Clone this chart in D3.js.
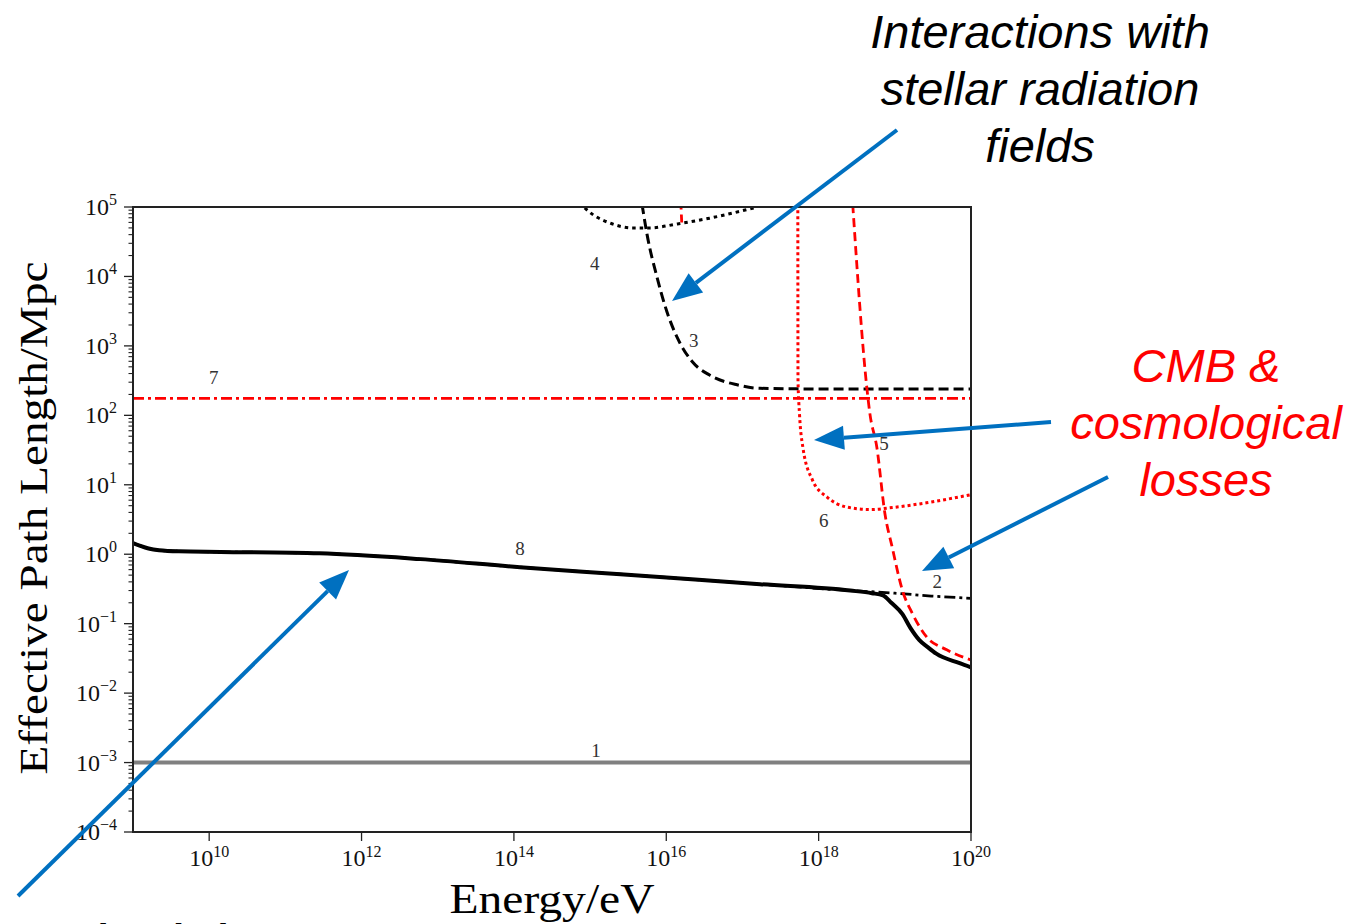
<!DOCTYPE html>
<html>
<head>
<meta charset="utf-8">
<script src="https://cdn.jsdelivr.net/npm/d3@7"></script>
<style>
  html, body { margin: 0; padding: 0; background: #fff; }
  svg { display: block; }
</style>
</head>
<body>
<svg id="chart" width="1349" height="924"></svg>
<script>
// energies in eV, path lengths in Mpc
const totalE = [1e9, 1.25e9, 1.6e9, 2.2e9, 4e9, 1.4e10, 2.8e11, 5.9e12, 1.2e14, 2.5e15, 1.7e17, 2.6e18, 5e18, 7e18, 9e18, 1.26e19, 1.6e19, 2.1e19, 2.7e19, 3.5e19, 7.1e19, 1e20];
const totalL = [1.45, 1.32, 1.21, 1.14, 1.1, 1.08, 1.03, 0.85, 0.65, 0.515, 0.37, 0.30, 0.275, 0.255, 0.2, 0.137, 0.087, 0.058, 0.046, 0.037, 0.027, 0.0235];

const hadronE = [1e9, 1.25e9, 1.6e9, 2.2e9, 4e9, 1.4e10, 2.8e11, 5.9e12, 1.2e14, 2.5e15, 1.7e17, 2.6e18, 1e19, 3e19, 1e20];
const hadronL = [1.45, 1.32, 1.21, 1.14, 1.1, 1.08, 1.03, 0.85, 0.65, 0.515, 0.37, 0.30, 0.275, 0.25, 0.232];

const stellarPionE = [4.8e15, 5.6e15, 7.6e15, 1.02e16, 1.4e16, 2.2e16, 3.7e16, 8.5e16, 1.7e17, 1e18, 1e20];
const stellarPionL = [1.1e5, 4e4, 9.5e3, 3.1e3, 1.3e3, 590, 380, 275, 245, 240, 240];

const stellarPairE = [7.2e14, 1.1e15, 1.8e15, 3.6e15, 6e15, 1.4e16, 3.7e16, 1.4e17];
const stellarPairL = [1.15e5, 7.7e4, 5.9e4, 5.0e4, 5.0e4, 5.7e4, 6.9e4, 9.7e4];

const cmbPionE = [2.8e18, 4.3e18, 4.7e18, 5.8e18, 7.4e18, 9.3e18, 1.26e19, 1.7e19, 2.6e19, 4.8e19, 1e20];
const cmbPionL = [1.1e5, 245, 107, 35, 3.9, 1.22, 0.30, 0.14, 0.065, 0.042, 0.030];

const cmbStubE = [1.55e16, 1.6e16];
const cmbStubL = [1.2e5, 5.6e4];

const cmbPairE = [5.33e17, 5.36e17, 5.6e17, 6.2e17, 8.3e17, 1.3e18, 2.3e18, 4.7e18, 9.3e18, 2.6e19, 1e20];
const cmbPairL = [1.1e5, 320, 107, 35, 11.7, 6.6, 4.8, 4.4, 4.7, 5.5, 7.2];

const diffusionE = [1e9, 1e20];
const diffusionL = [1e-3, 1e-3];

const cosmoE = [1e9, 1e20];
const cosmoL = [175, 175];

const curveLabels = ["1", "2", "3", "4", "5", "6", "7", "8"];
const labelE = [1.2e15, 3.6e19, 2.3e16, 1.15e15, 7.2e18, 1.17e18, 1.15e10, 1.2e14];
const labelL = [1.2e-3, 0.33, 950, 1.24e4, 31.6, 2.47, 280, 0.97];

const xTickExp = [10, 12, 14, 16, 18, 20];
const yTickExp = [-4, -3, -2, -1, 0, 1, 2, 3, 4, 5];

const svg = d3.select("#chart");
const pLeft = 133, pRight = 971, pTop = 207, pBottom = 832;

const x = d3.scaleLog().domain([1e9, 1e20]).range([pLeft, pRight]);
const y = d3.scaleLog().domain([1e-4, 1e5]).range([pBottom, pTop]);

svg.append("defs").append("clipPath").attr("id", "plot")
  .append("rect").attr("x", pLeft).attr("y", pTop)
  .attr("width", pRight - pLeft).attr("height", pBottom - pTop);

const line = d3.line()
  .x(d => x(d[0]))
  .y(d => y(d[1]))
  .curve(d3.curveMonotoneX);

const zipped = (es, ls) => es.map((e, i) => [e, ls[i]]);

const series = [
  {e: diffusionE, l: diffusionL, color: "#808080", width: 4, dash: null},
  {e: cosmoE, l: cosmoL, color: "#ff0000", width: 2.8, dash: "11,4,3,4"},
  {e: hadronE, l: hadronL, color: "#000", width: 2.8, dash: "11,4,3,4"},
  {e: stellarPairE, l: stellarPairL, color: "#000", width: 3, dash: "3.5,4"},
  {e: stellarPionE, l: stellarPionL, color: "#000", width: 3, dash: "10,5"},
  {e: cmbStubE, l: cmbStubL, color: "#ff0000", width: 2.8, dash: "8,5"},
  {e: cmbPairE, l: cmbPairL, color: "#ff0000", width: 3, dash: "3,3"},
  {e: cmbPionE, l: cmbPionL, color: "#ff0000", width: 2.8, dash: "9,5"},
  {e: totalE, l: totalL, color: "#000", width: 4, dash: null}
];

const curves = svg.append("g").attr("clip-path", "url(#plot)");
curves.selectAll("path")
  .data(series)
  .enter()
  .append("path")
  .attr("d", s => line(zipped(s.e, s.l)))
  .attr("fill", "none")
  .attr("stroke", s => s.color)
  .attr("stroke-width", s => s.width)
  .attr("stroke-dasharray", s => s.dash)
  .attr("stroke-linejoin", "round");

// curve numbers
svg.append("g").selectAll("text")
  .data(curveLabels)
  .enter()
  .append("text")
  .attr("x", (d, i) => x(labelE[i]))
  .attr("y", (d, i) => y(labelL[i]))
  .attr("text-anchor", "middle")
  .attr("font-family", "Liberation Serif, serif")
  .attr("font-size", 19)
  .attr("fill", "#333")
  .text(d => d);

// frame
svg.append("rect")
  .attr("x", pLeft).attr("y", pTop)
  .attr("width", pRight - pLeft).attr("height", pBottom - pTop)
  .attr("fill", "none").attr("stroke", "#222").attr("stroke-width", 2);

// x axis
const xAxis = svg.append("g");
xAxis.selectAll("line")
  .data(xTickExp)
  .enter()
  .append("line")
  .attr("x1", d => x(Math.pow(10, d))).attr("x2", d => x(Math.pow(10, d)))
  .attr("y1", pBottom).attr("y2", pBottom + 9)
  .attr("stroke", "#222").attr("stroke-width", 1.3);

const xLab = xAxis.selectAll("text")
  .data(xTickExp)
  .enter()
  .append("text")
  .attr("x", d => x(Math.pow(10, d)))
  .attr("y", pBottom + 34)
  .attr("text-anchor", "middle")
  .attr("font-family", "Liberation Serif, serif")
  .attr("font-size", 24)
  .attr("fill", "#111");
xLab.append("tspan").text("10");
xLab.append("tspan").attr("dy", -9).attr("font-size", 16).text(d => d);

// y axis, majors and log minors
const yAxis = svg.append("g");
const minors = [];
yTickExp.slice(0, -1).forEach(p => {
  for (let k = 2; k < 10; k++) minors.push(k * Math.pow(10, p));
});
yAxis.selectAll("line.minor")
  .data(minors)
  .enter()
  .append("line")
  .attr("class", "minor")
  .attr("x1", pLeft - 4.5).attr("x2", pLeft)
  .attr("y1", d => y(d)).attr("y2", d => y(d))
  .attr("stroke", "#222").attr("stroke-width", 1.1);
yAxis.selectAll("line.major")
  .data(yTickExp)
  .enter()
  .append("line")
  .attr("class", "major")
  .attr("x1", pLeft - 9).attr("x2", pLeft)
  .attr("y1", d => y(Math.pow(10, d))).attr("y2", d => y(Math.pow(10, d)))
  .attr("stroke", "#222").attr("stroke-width", 1.3);

const yLab = yAxis.selectAll("text")
  .data(yTickExp)
  .enter()
  .append("text")
  .attr("x", pLeft - 16)
  .attr("y", d => y(Math.pow(10, d)) + 8)
  .attr("text-anchor", "end")
  .attr("font-family", "Liberation Serif, serif")
  .attr("font-size", 24)
  .attr("fill", "#111");
yLab.append("tspan").text("10");
yLab.append("tspan").attr("dy", -10).attr("font-size", 16)
  .text(d => d < 0 ? "\u2212" + (-d) : d);

// axis titles
svg.append("text")
  .attr("x", 552).attr("y", 913)
  .attr("text-anchor", "middle")
  .attr("font-family", "Liberation Serif, serif")
  .attr("font-size", 43)
  .attr("textLength", 205).attr("lengthAdjust", "spacingAndGlyphs")
  .text("Energy/eV");

svg.append("text")
  .attr("transform", "translate(47,518) rotate(-90)")
  .attr("text-anchor", "middle")
  .attr("font-family", "Liberation Serif, serif")
  .attr("font-size", 40)
  .attr("textLength", 513).attr("lengthAdjust", "spacingAndGlyphs")
  .text("Effective Path Length/Mpc");

// annotations
const blue = "#0070c0";
const arrows = [
  {x1: 897, y1: 130, x2: 672, y2: 301},
  {x1: 1051, y1: 422, x2: 814, y2: 440},
  {x1: 1108, y1: 477, x2: 922, y2: 571},
  {x1: 18, y1: 896, x2: 349, y2: 570}
];
const ann = svg.append("g");
arrows.forEach(a => {
  const ang = Math.atan2(a.y2 - a.y1, a.x2 - a.x1);
  const len = 30, half = 12;
  const bx = a.x2 - len * Math.cos(ang), by = a.y2 - len * Math.sin(ang);
  ann.append("line")
    .attr("x1", a.x1).attr("y1", a.y1).attr("x2", bx).attr("y2", by)
    .attr("stroke", blue).attr("stroke-width", 4);
  const px = -Math.sin(ang) * half, py = Math.cos(ang) * half;
  ann.append("polygon")
    .attr("points", [[a.x2, a.y2], [bx + px, by + py], [bx - px, by - py]].map(p => p.join(",")).join(" "))
    .attr("fill", blue);
});

const stellarText = ["Interactions with", "stellar radiation", "fields"];
ann.append("g").selectAll("text")
  .data(stellarText)
  .enter()
  .append("text")
  .attr("x", 1040)
  .attr("y", (d, i) => 48 + i * 57)
  .attr("text-anchor", "middle")
  .attr("font-family", "Liberation Sans, Arial, sans-serif")
  .attr("font-style", "italic")
  .attr("font-size", 47)
  .attr("fill", "#000")
  .text(d => d);

const cmbText = ["CMB &", "cosmological", "losses"];
ann.append("g").selectAll("text")
  .data(cmbText)
  .enter()
  .append("text")
  .attr("x", 1206)
  .attr("y", (d, i) => 382 + i * 57)
  .attr("text-anchor", "middle")
  .attr("font-family", "Liberation Sans, Arial, sans-serif")
  .attr("font-style", "italic")
  .attr("font-size", 47)
  .attr("fill", "#ff0000")
  .text(d => d);

// caption cut off by the bottom edge, only the tops of its letters show
ann.append("text")
  .attr("x", 33).attr("y", 953)
  .attr("font-family", "Liberation Sans, Arial, sans-serif")
  .attr("font-weight", "bold")
  .attr("font-size", 40)
  .attr("fill", "#000")
  .text("Hadronic losses");
</script>
</body>
</html>
